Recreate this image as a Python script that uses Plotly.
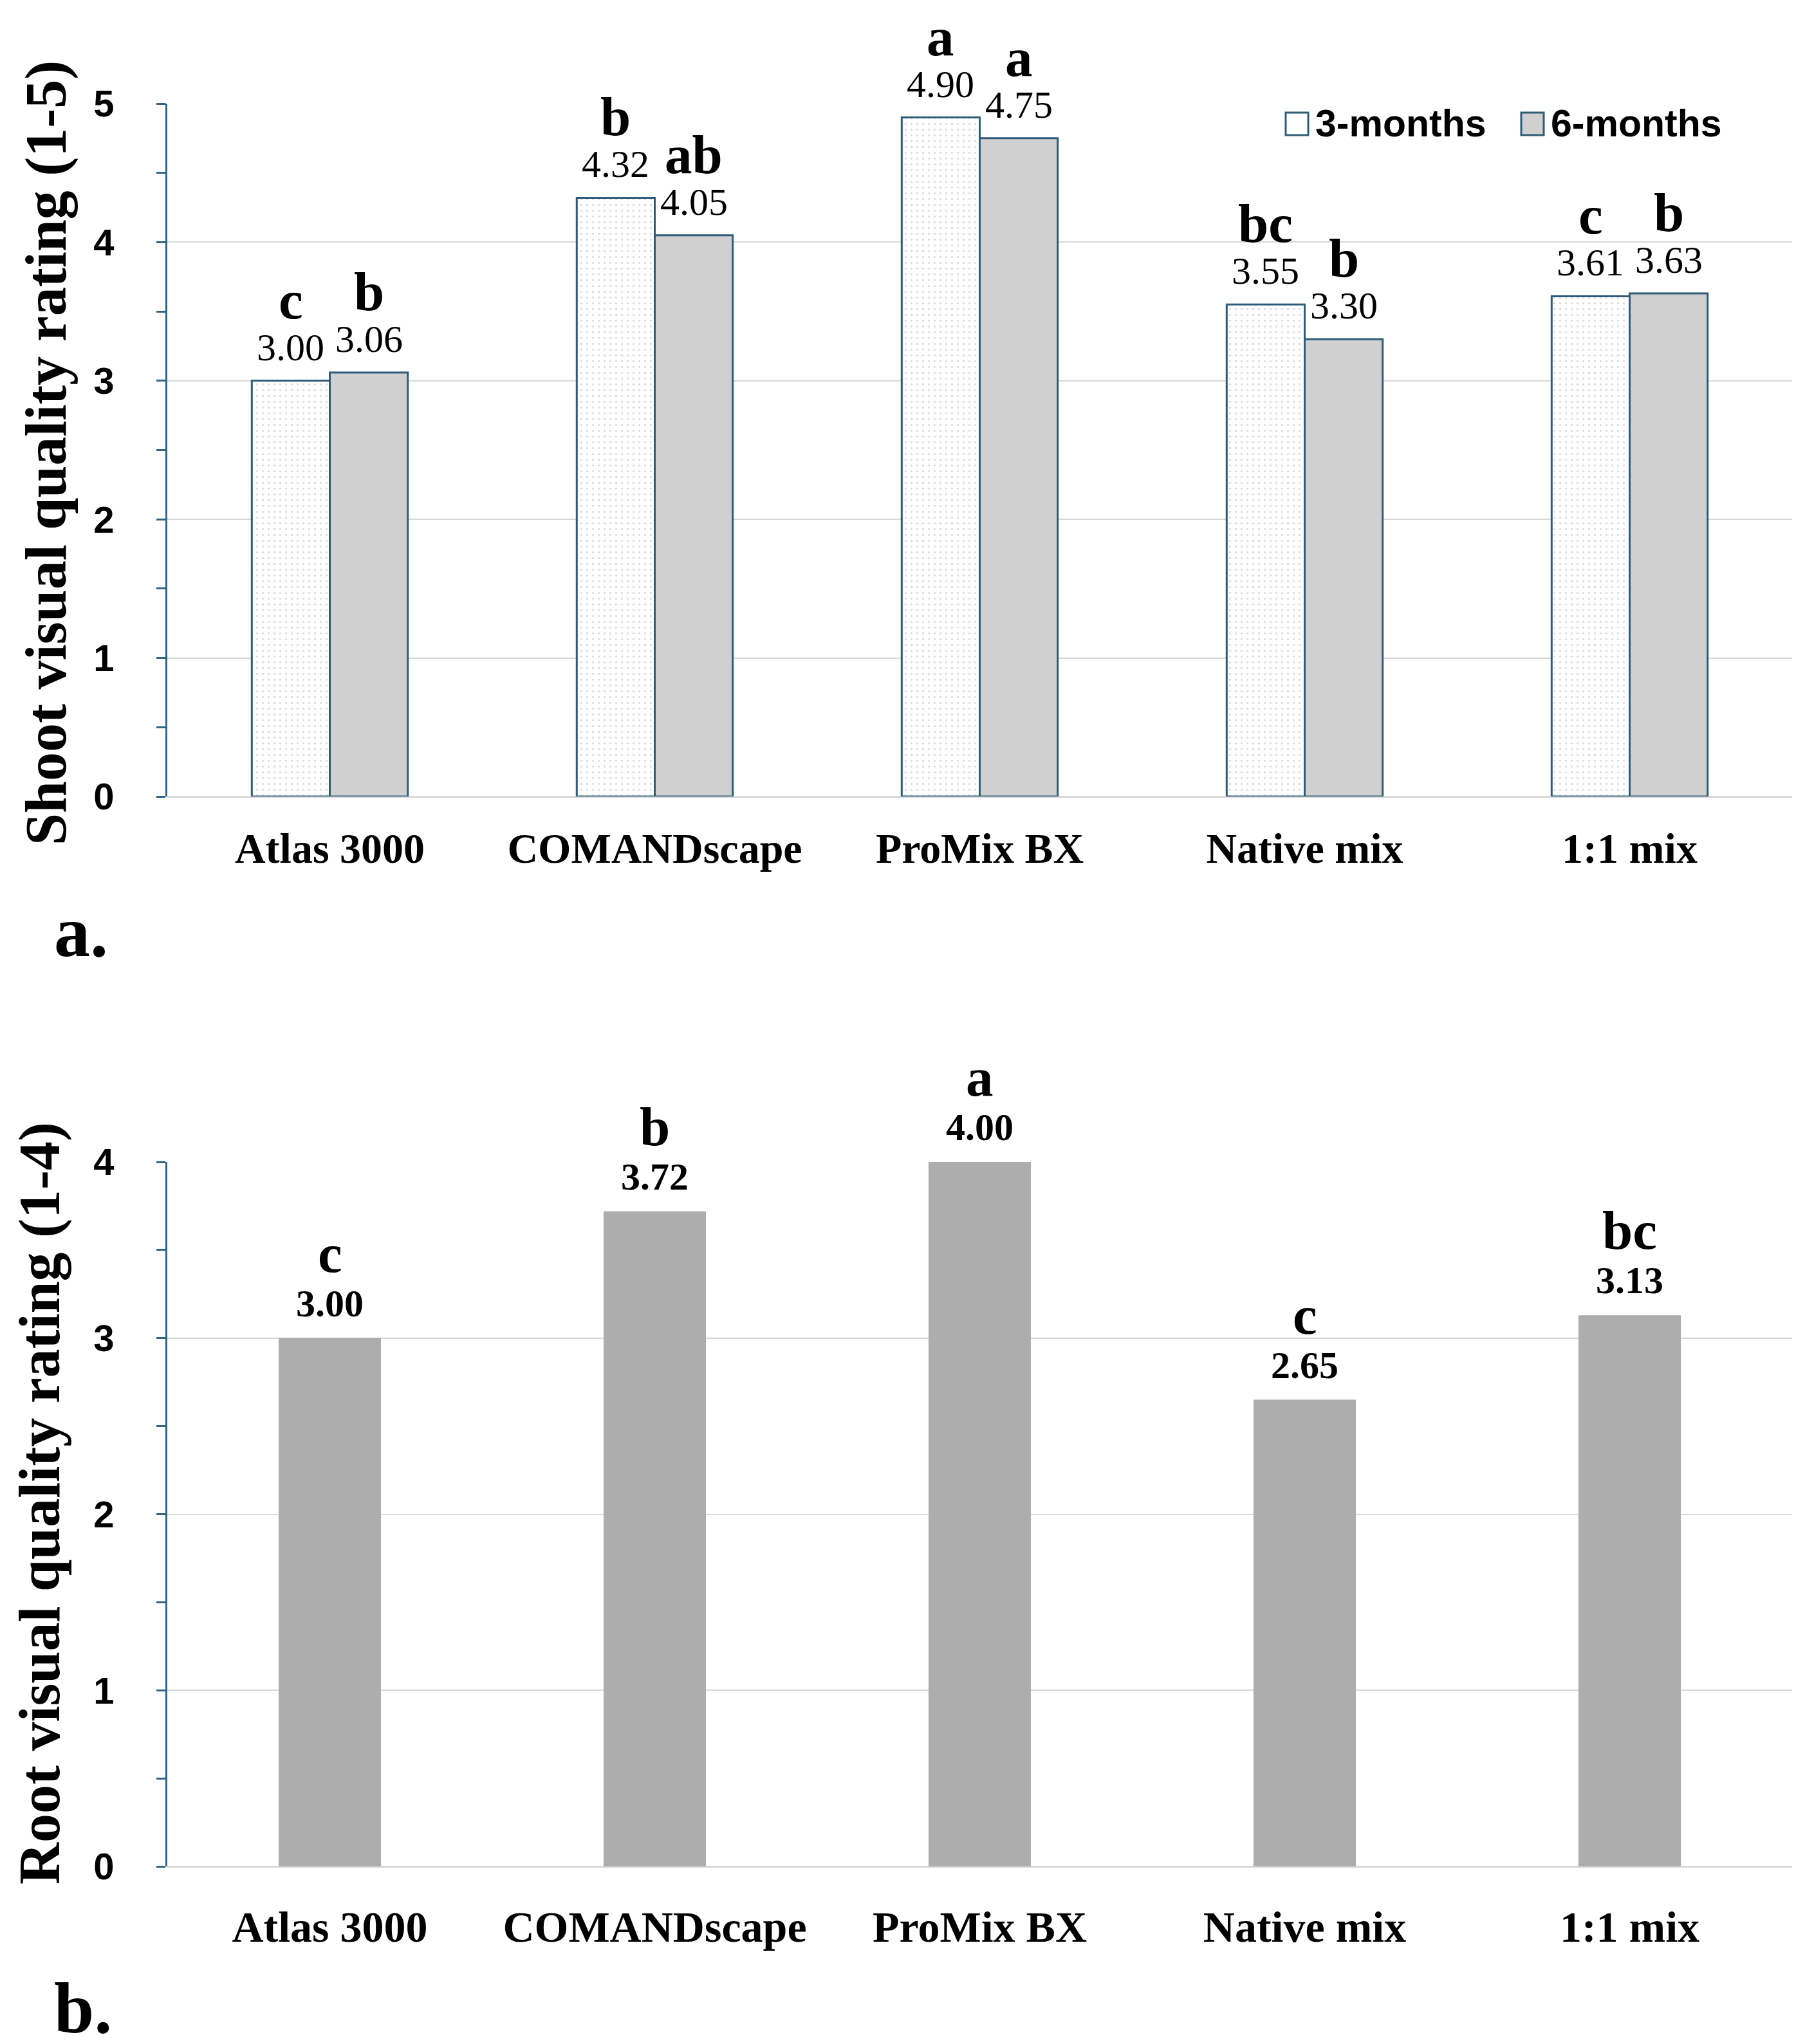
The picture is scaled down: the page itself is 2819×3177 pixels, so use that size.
import plotly.graph_objects as go
from plotly.subplots import make_subplots

# Data
categories = ['Atlas 3000', 'COMANDscape', 'ProMix BX', 'Native mix', '1:1 mix']

shoot_3mo = [3.00, 4.32, 4.90, 3.55, 3.61]
shoot_6mo = [3.06, 4.05, 4.75, 3.30, 3.63]
shoot_3mo_letters = ['c', 'b', 'a', 'bc', 'c']
shoot_6mo_letters = ['b', 'ab', 'a', 'b', 'b']

root_values = [3.00, 3.72, 4.00, 2.65, 3.13]
root_letters = ['c', 'b', 'a', 'c', 'bc']

series_names = ['3-months', '6-months']

# Styling
W, H = 2819, 3177
SERIF = 'Liberation Serif'
SANS = 'Liberation Sans'
edge_color = '#2E5C78'
axis_color = '#2E6485'
grid_color = '#D9D9D9'
gray_6mo = '#D0D0D0'
gray_root = '#ADADAD'
bargap = 0.52
root_width = 0.315
half = (1 - bargap) / 4  # offset of each grouped bar centre

fig = make_subplots(rows=2, cols=1)

# Panel a: grouped bars
fig.add_trace(
    go.Bar(
        x=list(range(len(categories))), y=shoot_3mo, name=series_names[0],
        marker=dict(
            color='white',
            line=dict(color=edge_color, width=3),
            pattern=dict(shape='.', fgcolor='#BDBDBD', bgcolor='white',
                         size=9, solidity=0.12),
        ),
        showlegend=False,
    ),
    row=1, col=1
)
fig.add_trace(
    go.Bar(
        x=list(range(len(categories))), y=shoot_6mo, name=series_names[1],
        marker=dict(color=gray_6mo, line=dict(color=edge_color, width=3)),
        showlegend=False,
    ),
    row=1, col=1
)

# Panel b: single bars
fig.add_trace(
    go.Bar(
        x=list(range(len(categories))), y=root_values, width=root_width,
        marker=dict(color=gray_root, line=dict(width=0)),
        showlegend=False,
    ),
    row=2, col=1
)

annotations = []


def label_pair(x, y, num, letter, xref, yref, num_font, num_shift, let_shift):
    annotations.append(dict(
        x=x, y=y, xref=xref, yref=yref, text=f'{num:.2f}', showarrow=False,
        xanchor='center', yanchor='middle', yshift=num_shift, font=num_font))
    annotations.append(dict(
        x=x, y=y, xref=xref, yref=yref, text=f'<b>{letter}</b>', showarrow=False,
        xanchor='center', yanchor='middle', yshift=let_shift,
        font=dict(family=SERIF, size=85, color='black')))


num_font_a = dict(family=SERIF, size=60, color='black')
num_font_b = dict(family=SERIF, size=60, color='black', weight='bold')

for i in range(len(categories)):
    label_pair(i - half, shoot_3mo[i], shoot_3mo[i], shoot_3mo_letters[i],
               'x', 'y', num_font_a, 52, 126)
    label_pair(i + half, shoot_6mo[i], shoot_6mo[i], shoot_6mo_letters[i],
               'x', 'y', num_font_a, 52, 126)
    label_pair(i, root_values[i], root_values[i], root_letters[i],
               'x2', 'y2', num_font_b, 54, 132)

# Axis titles and panel tags
annotations += [
    dict(x=64 / W, y=1 - 696 / H, xref='paper', yref='paper', showarrow=False,
         xanchor='center', yanchor='middle',
         text='<b>Shoot visual quality rating (1-5)</b>', textangle=-90,
         font=dict(family=SERIF, size=90, color='black')),
    dict(x=54 / W, y=1 - 2329 / H, xref='paper', yref='paper', showarrow=False,
         xanchor='center', yanchor='middle',
         text='<b>Root visual quality rating (1-4)</b>', textangle=-90,
         font=dict(family=SERIF, size=90, color='black')),
    dict(x=74 / W, y=1 - 1440 / H, xref='paper', yref='paper', showarrow=False,
         xanchor='left', yanchor='middle', text='<b>a.</b>',
         font=dict(family=SERIF, size=112, color='black')),
    dict(x=74 / W, y=0, xref='paper', yref='paper', showarrow=False,
         xanchor='left', yanchor='bottom', text='<b>b.</b>',
         font=dict(family=SERIF, size=112, color='black')),
]

# Custom legend (large swatches)
legend_items = [(1990, 'white'), (2356, gray_6mo)]
shapes = []
for (lx, fill), name in zip(legend_items, series_names):
    shapes.append(dict(type='rect', xref='paper', yref='paper',
                       x0=lx / W, x1=(lx + 35) / W,
                       y0=1 - 202 / H, y1=1 - 167 / H,
                       fillcolor=fill, line=dict(color=edge_color, width=3)))
    annotations.append(dict(x=(lx + 44) / W, y=1 - 184 / H, xref='paper', yref='paper',
                            xanchor='left', yanchor='middle', showarrow=False,
                            text=f'<b>{name}</b>',
                            font=dict(family=SANS, size=59, color='black')))

fig.update_layout(
    width=W, height=H,
    autosize=False,
    margin=dict(l=0, r=0, t=0, b=0, autoexpand=False),
    plot_bgcolor='white', paper_bgcolor='white',
    barmode='group', bargap=bargap, bargroupgap=0,
    annotations=annotations,
    shapes=shapes,
    showlegend=False,
)

# Axes
x_dom = [252 / W, 2777 / W]
for row, dom, top, lab_size in [(1, [1 - 1230 / H, 1 - 153 / H], 5, 66),
                                (2, [1 - 2893 / H, 1 - 1798 / H], 4, 68)]:
    fig.update_xaxes(
        row=row, col=1, domain=x_dom, automargin=False,
        range=[-0.5, len(categories) - 0.5],
        tickmode='array', tickvals=list(range(len(categories))), ticktext=categories,
        tickfont=dict(family=SERIF, size=lab_size, color='black', weight='bold'),
        showgrid=False, showline=False, zeroline=False, ticks='',
        ticklabelstandoff=36 if row == 1 else 48,
    )
    fig.update_yaxes(
        row=row, col=1, domain=dom, automargin=False,
        range=[0, top], dtick=1, tick0=0,
        tickfont=dict(family=SANS, size=58, color='black', weight='bold'),
        showgrid=True, gridcolor=grid_color, gridwidth=2,
        zeroline=True, zerolinecolor=grid_color, zerolinewidth=3,
        showline=True, linecolor=axis_color, linewidth=3,
        ticks='outside', ticklen=14, tickwidth=3, tickcolor=axis_color,
        minor=dict(dtick=0.5, ticks='outside', ticklen=14, tickwidth=3,
                   tickcolor=axis_color, showgrid=False),
        ticklabelstandoff=54,
    )

fig.write_html('out.html')
